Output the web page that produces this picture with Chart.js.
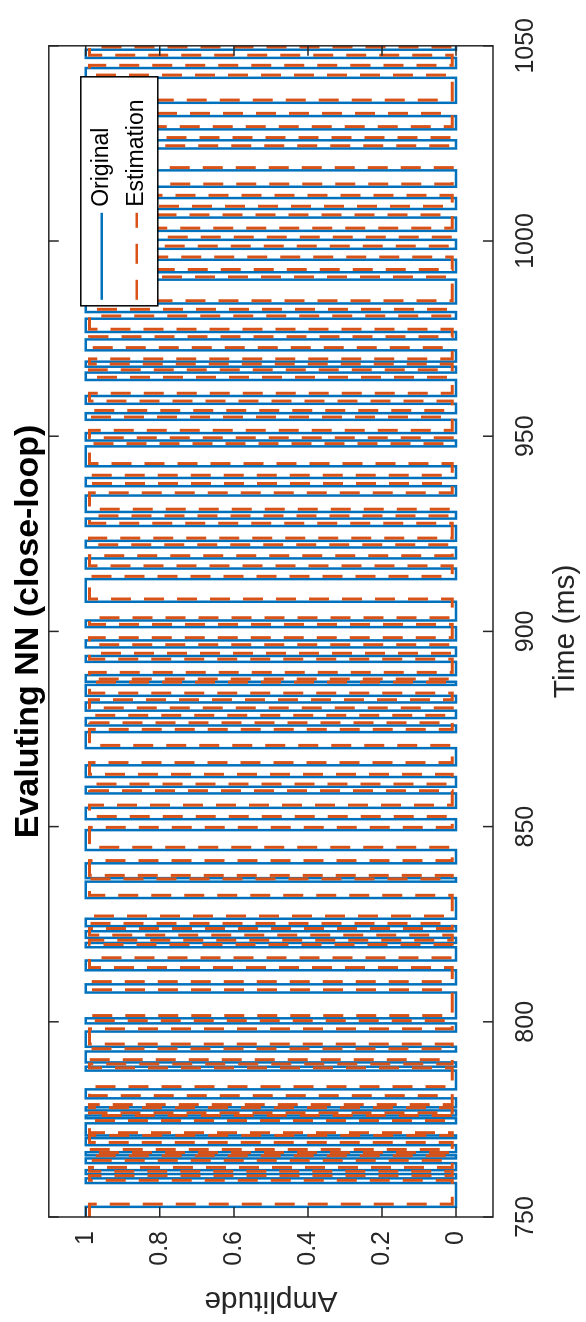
<!DOCTYPE html>
<html>
<head>
<meta charset="utf-8">
<script src="https://cdn.jsdelivr.net/npm/chart.js@4.4.1/dist/chart.umd.min.js"></script>
<style>
html, body { margin: 0; padding: 0; background: #fff; overflow: hidden; }
/* o gráfico é desenhado deitado e girado 90° para a esquerda */
#giro { position: absolute; left: 0; top: 0; width: 1322px; height: 586px;
        transform-origin: 0 0; transform: translate(0, 1322px) rotate(-90deg); }
</style>
</head>
<body>
<div id="giro"><canvas id="grafico" width="1322" height="586"></canvas></div>
<script>
// Dados (instantes de transição em ms e nível depois de cada um)
const tempoOriginal = [750, 752.6, 758.7, 759.9, 761, 762, 763.8, 765, 765.8, 766.6, 768.4, 770.2, 770.9, 774, 775.3, 776, 777.3, 778.1, 780.4, 782.7, 787.5, 788.5, 789.6, 792.4, 793.6, 797.5, 799.6, 800.9, 807.5, 809.6, 813.2, 815.7, 819.1, 820.2, 821.5, 823.2, 824.5, 826.4, 831.7, 835.9, 836.8, 840.6, 844.0, 849.1, 851.9, 854.8, 858.5, 860.2, 862.7, 865.7, 870.1, 874.2, 875.9, 877.8, 879.7, 881.8, 883.5, 886.3, 887.1, 888.8, 892.2, 893.7, 895.9, 897.7, 901.1, 902.8, 907.6, 913.4, 916.1, 918.7, 921.5, 923.2, 927.0, 928.9, 930.6, 934.8, 937.2, 939.3, 942.3, 947.4, 948.9, 950.8, 954.2, 955.9, 958.3, 960.3, 964.4, 966.3, 967.8, 969.1, 972.0, 974.8, 976.7, 980.1, 981.8, 984.0, 990.1, 992.0, 995.2, 998.0, 1000.3, 1002.6, 1006.0, 1008.2, 1011.0, 1013.9, 1018.1, 1023.7, 1025.8, 1028.6, 1032, 1035.4, 1041.8, 1044.3, 1046.9, 1049, 1050];
const valorOriginal = [1, 0, 1, 0, 1, 0, 1, 0, 1, 0, 1, 0, 1, 0, 1, 0, 1, 0, 1, 0, 1, 0, 1, 0, 1, 0, 1, 0, 1, 0, 1, 0, 1, 0, 1, 0, 1, 0, 1, 0, 1, 0, 1, 0, 1, 0, 1, 0, 1, 0, 1, 0, 1, 0, 1, 0, 1, 0, 1, 0, 1, 0, 1, 0, 1, 0, 1, 0, 1, 0, 1, 0, 1, 0, 1, 0, 1, 0, 1, 0, 1, 0, 1, 0, 1, 0, 1, 0, 1, 0, 1, 0, 1, 0, 1, 0, 1, 0, 1, 0, 1, 0, 1, 0, 1, 0, 1, 0, 1, 0, 1, 0, 1, 0, 1, 0, 0];
const tempoEstimado = [750, 753.3, 759.4, 760.6, 761.7, 762.7, 764.5, 765.7, 766.5, 767.3, 769.1, 770.9, 771.6, 774.7, 776.0, 776.7, 778.0, 778.8, 781.1, 783.4, 788.2, 789.2, 790.3, 793.1, 794.3, 798.2, 800.3, 801.6, 808.2, 810.3, 813.9, 816.4, 819.8, 820.9, 822.2, 823.9, 825.2, 827.1, 832.4, 836.6, 837.5, 841.3, 844.7, 849.8, 852.6, 855.5, 859.2, 860.9, 863.4, 866.4, 870.8, 874.9, 876.6, 878.5, 880.4, 882.5, 884.2, 887.0, 887.8, 889.5, 892.9, 894.4, 896.6, 898.4, 901.8, 903.5, 908.3, 914.1, 916.8, 919.4, 922.2, 923.9, 927.7, 929.6, 931.3, 935.5, 937.9, 940.0, 943.0, 948.1, 949.6, 951.5, 954.9, 956.6, 959.0, 961.0, 965.1, 967.0, 968.5, 969.8, 972.7, 975.5, 977.4, 980.8, 982.5, 984.7, 990.8, 992.7, 995.9, 998.7, 1001.0, 1003.3, 1006.7, 1008.9, 1011.7, 1014.6, 1018.8, 1024.4, 1026.5, 1029.3, 1032.7, 1036.1, 1042.5, 1045.0, 1047.6, 1049.7, 1050];
const valorEstimado = [0.99, 0.01, 0.99, 0.01, 0.99, 0.01, 0.99, 0.01, 0.99, 0.01, 0.99, 0.01, 0.99, 0.01, 0.99, 0.01, 0.99, 0.01, 0.99, 0.01, 0.99, 0.01, 0.99, 0.01, 0.99, 0.01, 0.99, 0.01, 0.99, 0.01, 0.99, 0.01, 0.99, 0.01, 0.99, 0.01, 0.99, 0.01, 0.99, 0.01, 0.99, 0.01, 0.99, 0.01, 0.99, 0.01, 0.99, 0.01, 0.99, 0.01, 0.99, 0.01, 0.99, 0.01, 0.99, 0.01, 0.99, 0.01, 0.99, 0.01, 0.99, 0.01, 0.99, 0.01, 0.99, 0.01, 0.99, 0.01, 0.99, 0.01, 0.99, 0.01, 0.99, 0.01, 0.99, 0.01, 0.99, 0.01, 0.99, 0.01, 0.99, 0.01, 0.99, 0.01, 0.99, 0.01, 0.99, 0.01, 0.99, 0.01, 0.99, 0.01, 0.99, 0.01, 0.99, 0.01, 0.99, 0.01, 0.99, 0.01, 0.99, 0.01, 0.99, 0.01, 0.99, 0.01, 0.99, 0.01, 0.99, 0.01, 0.99, 0.01, 0.99, 0.01, 0.99, 0.01, 0.01];
const ticksTempo = [750, 800, 850, 900, 950, 1000, 1050];
const ticksAmplitude = [0, 0.2, 0.4, 0.6, 0.8, 1];
const nomesSeries = ['Original', 'Estimation'];

const corOriginal = '#0072BD';
const corEstimado = '#D95319';
const corEixo = '#262626';

Chart.defaults.font.family = "'Liberation Sans', Arial, sans-serif";
Chart.defaults.color = corEixo;

// Caixa do eixo, marcas para dentro e legenda no canto
const moldura = {
    id: 'moldura',
    afterDraw(chart) {
        const { ctx, chartArea: a, scales: { x, y } } = chart;
        ctx.save();
        ctx.strokeStyle = corEixo;
        ctx.lineWidth = 1.5;
        ctx.strokeRect(a.left, a.top, a.right - a.left, a.bottom - a.top);
        ctx.beginPath();
        ticksTempo.forEach(t => {
            const px = x.getPixelForValue(t);
            ctx.moveTo(px, a.bottom); ctx.lineTo(px, a.bottom - 10);
            ctx.moveTo(px, a.top); ctx.lineTo(px, a.top + 10);
        });
        ticksAmplitude.forEach(v => {
            const py = y.getPixelForValue(v);
            ctx.moveTo(a.left, py); ctx.lineTo(a.left + 10, py);
            ctx.moveTo(a.right, py); ctx.lineTo(a.right - 10, py);
        });
        ctx.stroke();

        // legenda
        const lw = 229, lh = 77;
        const lx = a.right - 31 - lw, ly = a.top + 32;
        ctx.fillStyle = '#fff';
        ctx.fillRect(lx, ly, lw, lh);
        ctx.strokeStyle = '#000';
        ctx.lineWidth = 1.5;
        ctx.strokeRect(lx, ly, lw, lh);
        ctx.lineWidth = 2.5;
        ctx.strokeStyle = corOriginal;
        ctx.beginPath(); ctx.moveTo(lx + 6, ly + 21); ctx.lineTo(lx + 93, ly + 21); ctx.stroke();
        ctx.strokeStyle = corEstimado;
        ctx.setLineDash([20, 16]);
        ctx.beginPath(); ctx.moveTo(lx + 6, ly + 56); ctx.lineTo(lx + 93, ly + 56); ctx.stroke();
        ctx.setLineDash([]);
        ctx.fillStyle = '#000';
        ctx.font = "23px 'Liberation Sans', Arial, sans-serif";
        ctx.textBaseline = 'middle';
        ctx.fillText(nomesSeries[0], lx + 99, ly + 21);
        ctx.fillText(nomesSeries[1], lx + 99, ly + 56);
        ctx.restore();
    }
};

const ctx = document.getElementById('grafico').getContext('2d');
new Chart(ctx, {
    type: 'line',
    data: {
        datasets: [{
            label: nomesSeries[0],
            data: tempoOriginal.map((t, i) => ({ x: t, y: valorOriginal[i] })),
            borderColor: corOriginal,
            borderWidth: 2.5,
            stepped: true,
            pointRadius: 0,
            order: 2
        }, {
            label: nomesSeries[1],
            data: tempoEstimado.map((t, i) => ({ x: t, y: valorEstimado[i] })),
            borderColor: corEstimado,
            borderWidth: 3,
            borderDash: [20, 13],
            stepped: true,
            pointRadius: 0,
            order: 1
        }]
    },
    options: {
        responsive: false,
        animation: false,
        devicePixelRatio: 1,
        layout: { padding: { left: 0, right: 41, top: 0, bottom: 0 } },
        plugins: {
            legend: { display: false },
            tooltip: { enabled: false },
            title: {
                display: true,
                fullSize: false,
                text: 'Evaluting NN (close-loop)',
                font: { size: 34, weight: 'bold' },
                color: '#000',
                padding: { top: 8, bottom: 0 }
            }
        },
        scales: {
            x: {
                type: 'linear',
                min: 750,
                max: 1050,
                grid: { display: false, drawTicks: false },
                border: { display: false },
                afterBuildTicks: s => { s.ticks = ticksTempo.map(v => ({ value: v })); },
                afterFit: s => { s.height = 93; },
                ticks: { font: { size: 25 }, padding: 18, maxRotation: 0, callback: v => String(v) },
                title: { display: true, text: 'Time (ms)', font: { size: 30 }, padding: { top: 0, bottom: 2 } }
            },
            y: {
                type: 'linear',
                min: -0.1,
                max: 1.1,
                grid: { display: false, drawTicks: false },
                border: { display: false },
                afterBuildTicks: s => { s.ticks = ticksAmplitude.map(v => ({ value: v })); },
                afterFit: s => { s.width = 105; },
                ticks: { font: { size: 25 }, padding: 14, callback: v => String(v) },
                title: { display: true, text: 'Amplitude', font: { size: 30 }, padding: { top: 4, bottom: 0 } }
            }
        }
    },
    plugins: [moldura]
});
</script>
</body>
</html>
